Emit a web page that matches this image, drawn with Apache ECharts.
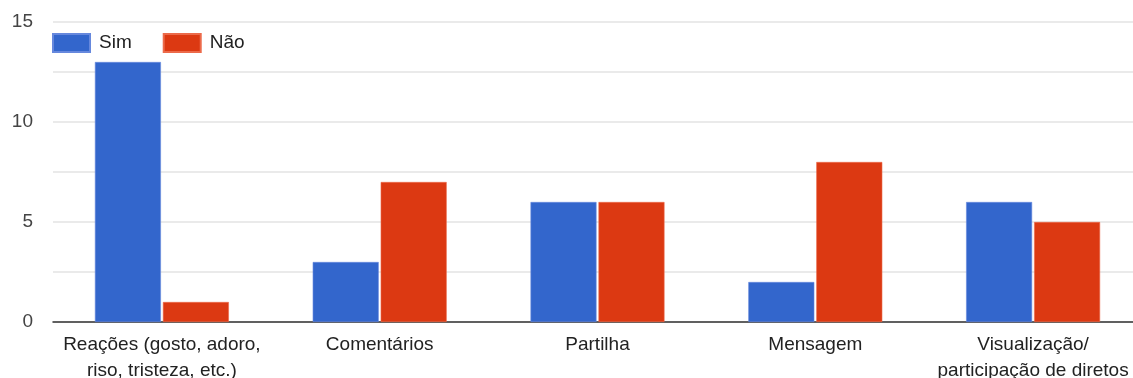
<!DOCTYPE html>
<html>
<head>
<meta charset="utf-8">
<style>
  html, body { margin: 0; padding: 0; background: #fff; }
  #chart { width: 1133px; height: 378px; }
</style>
<script src="https://cdn.jsdelivr.net/npm/echarts@6/dist/echarts.min.js"></script>
</head>
<body>
<div id="chart"></div>
<script>
const categories = [
  'Reações (gosto, adoro,\nriso, tristeza, etc.)',
  'Comentários',
  'Partilha',
  'Mensagem',
  'Visualização/\nparticipação de diretos'
];
const simValues = [13, 3, 6, 2, 6];
const naoValues = [1, 7, 6, 8, 5];
const seriesNames = ['Sim', 'Não'];
const yTickLabels = [0, 5, 10, 15];

const font = 'Liberation Sans, Arial, sans-serif';
const chart = echarts.init(document.getElementById('chart'), null, { renderer: 'canvas' });

chart.setOption({
  animation: false,
  textStyle: { fontFamily: font },
  grid: { left: 53, right: -9, top: 22, bottom: 56, containLabel: false, outerBoundsMode: 'none' },
  legend: {
    left: 52, top: 33, padding: 0,
    itemWidth: 37, itemHeight: 18, itemGap: 31,
    icon: 'rect',
    textStyle: { fontSize: 19, color: '#222', fontFamily: font, padding: [0, 0, 0, 4] },
    data: seriesNames
  },
  xAxis: {
    type: 'category',
    data: categories,
    axisLine: { lineStyle: { color: '#333', width: 1.5 } },
    axisTick: { show: false },
    axisLabel: { fontSize: 19, color: '#222', lineHeight: 26, margin: 10, interval: 0, fontFamily: font }
  },
  yAxis: {
    type: 'value',
    min: 0, max: 15, interval: 2.5,
    axisLine: { show: false },
    axisTick: { show: false },
    splitLine: { lineStyle: { color: '#e3e3e3', width: 1.5 } },
    axisLabel: {
      fontSize: 19, color: '#444', margin: 20, fontFamily: font,
      formatter: v => (yTickLabels.indexOf(v) >= 0 ? String(v) : '')
    }
  },
  series: [
    {
      name: seriesNames[0], type: 'bar', data: simValues,
      barWidth: 66, barGap: '3%',
      itemStyle: { color: '#3366cc', borderColor: '#6688dd', borderWidth: 0.6 }
    },
    {
      name: seriesNames[1], type: 'bar', data: naoValues,
      barWidth: 66,
      itemStyle: { color: '#dc3912', borderColor: '#ec6a4a', borderWidth: 0.6 }
    }
  ]
});
</script>
</body>
</html>
